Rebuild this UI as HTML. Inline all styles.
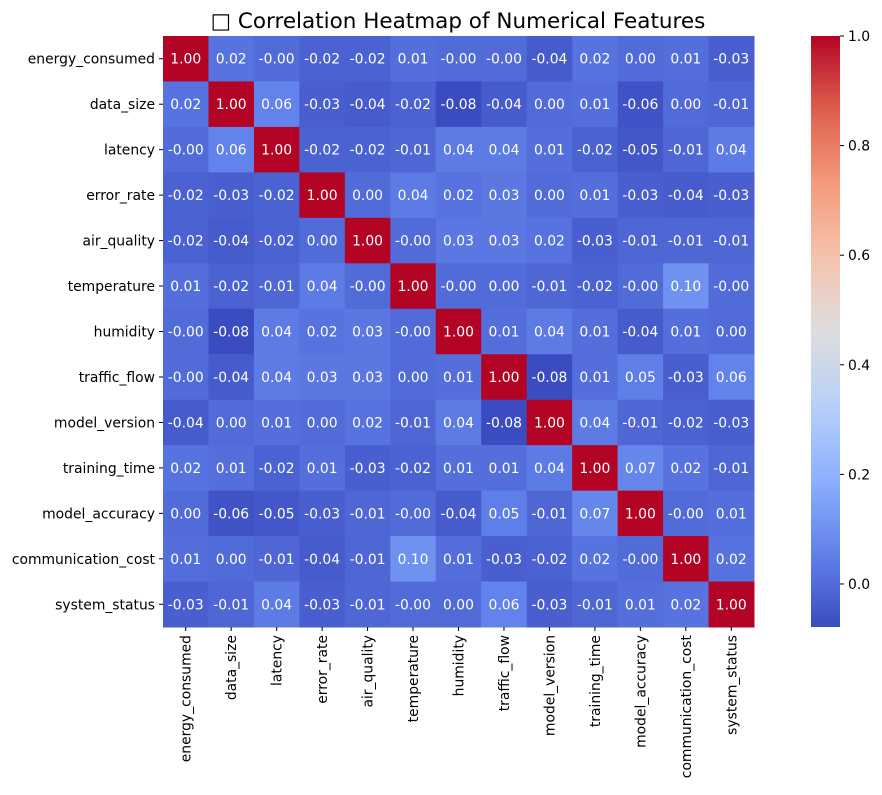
<!DOCTYPE html>
<html><head><meta charset="utf-8"><style>
body{margin:0;background:#fff;font-family:"Liberation Sans","DejaVu Sans",sans-serif}
svg text{font-family:"DejaVu Sans","Liberation Sans",sans-serif}
</style></head><body>
<svg id="c" width="882" height="790" xmlns="http://www.w3.org/2000/svg">
<text x="458" y="28" font-size="21.5" text-anchor="middle">□ Correlation Heatmap of Numerical Features</text>
</svg>
<script>
const labels=["energy_consumed","data_size","latency","error_rate","air_quality","temperature","humidity","traffic_flow","model_version","training_time","model_accuracy","communication_cost","system_status"];
const row0=[1.00,0.02,-0.002,-0.02,-0.02,0.01,-0.002,-0.002,-0.04,0.02,0.00,0.01,-0.03];
const row1=[0.02,1.00,0.06,-0.03,-0.04,-0.02,-0.08,-0.04,0.00,0.01,-0.06,0.00,-0.01];
const row2=[-0.002,0.06,1.00,-0.02,-0.02,-0.01,0.04,0.04,0.01,-0.02,-0.05,-0.01,0.04];
const row3=[-0.02,-0.03,-0.02,1.00,0.00,0.04,0.02,0.03,0.00,0.01,-0.03,-0.04,-0.03];
const row4=[-0.02,-0.04,-0.02,0.00,1.00,-0.002,0.03,0.03,0.02,-0.03,-0.01,-0.01,-0.01];
const row5=[0.01,-0.02,-0.01,0.04,-0.002,1.00,-0.002,0.00,-0.01,-0.02,-0.002,0.10,-0.002];
const row6=[-0.002,-0.08,0.04,0.02,0.03,-0.002,1.00,0.01,0.04,0.01,-0.04,0.01,0.00];
const row7=[-0.002,-0.04,0.04,0.03,0.03,0.00,0.01,1.00,-0.08,0.01,0.05,-0.03,0.06];
const row8=[-0.04,0.00,0.01,0.00,0.02,-0.01,0.04,-0.08,1.00,0.04,-0.01,-0.02,-0.03];
const row9=[0.02,0.01,-0.02,0.01,-0.03,-0.02,0.01,0.01,0.04,1.00,0.07,0.02,-0.01];
const row10=[0.00,-0.06,-0.05,-0.03,-0.01,-0.002,-0.04,0.05,-0.01,0.07,1.00,-0.002,0.01];
const row11=[0.01,0.00,-0.01,-0.04,-0.01,0.10,0.01,-0.03,-0.02,0.02,-0.002,1.00,0.02];
const row12=[-0.03,-0.01,0.04,-0.03,-0.01,-0.002,0.00,0.06,-0.03,-0.01,0.01,0.02,1.00];
const matrix=[row0,row1,row2,row3,row4,row5,row6,row7,row8,row9,row10,row11,row12];
const cbTicks=[0.0,0.2,0.4,0.6,0.8,1.0];
const vmin=-0.0785,vmax=1.0;
const NS="http://www.w3.org/2000/svg",svg=document.getElementById('c');
const L=163,T=36,W=591,H=591,n=labels.length,cw=W/n,ch=H/n,FS=13.9;
const cm=[[59,76,192],[97,130,234],[141,176,254],[184,208,249],[221,221,221],[245,196,173],[244,154,123],[222,96,77],[180,4,38]];
function color(v){let t=Math.max(0,Math.min(1,(v-vmin)/(vmax-vmin)))*8;let i=Math.min(7,Math.floor(t)),f=t-i;const a=cm[i],b=cm[i+1];return `rgb(${a.map((x,k)=>Math.round(x+(b[k]-x)*f)).join(',')})`;}
function mk(tag,at,txt){const e=document.createElementNS(NS,tag);for(const k in at)e.setAttribute(k,at[k]);if(txt!=null)e.textContent=txt;svg.appendChild(e);return e;}
const xs=i=>L+i*cw, ys=j=>T+j*ch;
matrix.forEach((row,j)=>row.forEach((v,i)=>{
 const r=mk('rect',{x:xs(i),y:ys(j),width:cw+0.5,height:ch+0.5,fill:color(v)});
 
 
 const t=mk('text',{x:xs(i)+cw/2,y:ys(j)+ch/2+5,'font-size':FS,fill:'#fff','text-anchor':'middle'},v.toFixed(2));
 
 
}));
labels.forEach((lb,k)=>{
 const yl=ys(k)+ch/2;
 mk('line',{x1:L-4,x2:L,y1:yl,y2:yl,stroke:'#000'});
 const t=mk('text',{x:L-8,y:yl+5,'font-size':FS,'text-anchor':'end'},lb);
 
 
 const xl=xs(k)+cw/2;
 mk('line',{x1:xl,x2:xl,y1:T+H,y2:T+H+4,stroke:'#000'});
 const u=mk('text',{x:xl+5,y:T+H+8,'font-size':FS,'text-anchor':'end',transform:`rotate(-90 ${xl+5} ${T+H+8})`},lb);
 
 
});
const cbX=811,cbW=29,cbT=36,cbB=627;
const cy=v=>cbB-(v-vmin)/(vmax-vmin)*(cbB-cbT);
const defs=mk('defs',{});const g=document.createElementNS(NS,'linearGradient');g.setAttribute('id','gr');g.setAttribute('x1','0');g.setAttribute('y1','1');g.setAttribute('x2','0');g.setAttribute('y2','0');defs.appendChild(g);
for(let k=0;k<=20;k++){const s=document.createElementNS(NS,'stop');s.setAttribute('offset',k/20);s.setAttribute('stop-color',color(vmin+(vmax-vmin)*k/20));g.appendChild(s);}
const cb=mk('rect',{x:cbX,y:cbT,width:cbW,height:cbB-cbT,fill:'url(#gr)'});


cbTicks.forEach(v=>{const y=cy(v);mk('line',{x1:cbX+cbW,x2:cbX+cbW+4,y1:y,y2:y,stroke:'#000'});
 const t=mk('text',{x:cbX+cbW+8,y:y+5,'font-size':FS},v.toFixed(1));
 
 });
</script>
</body></html>
